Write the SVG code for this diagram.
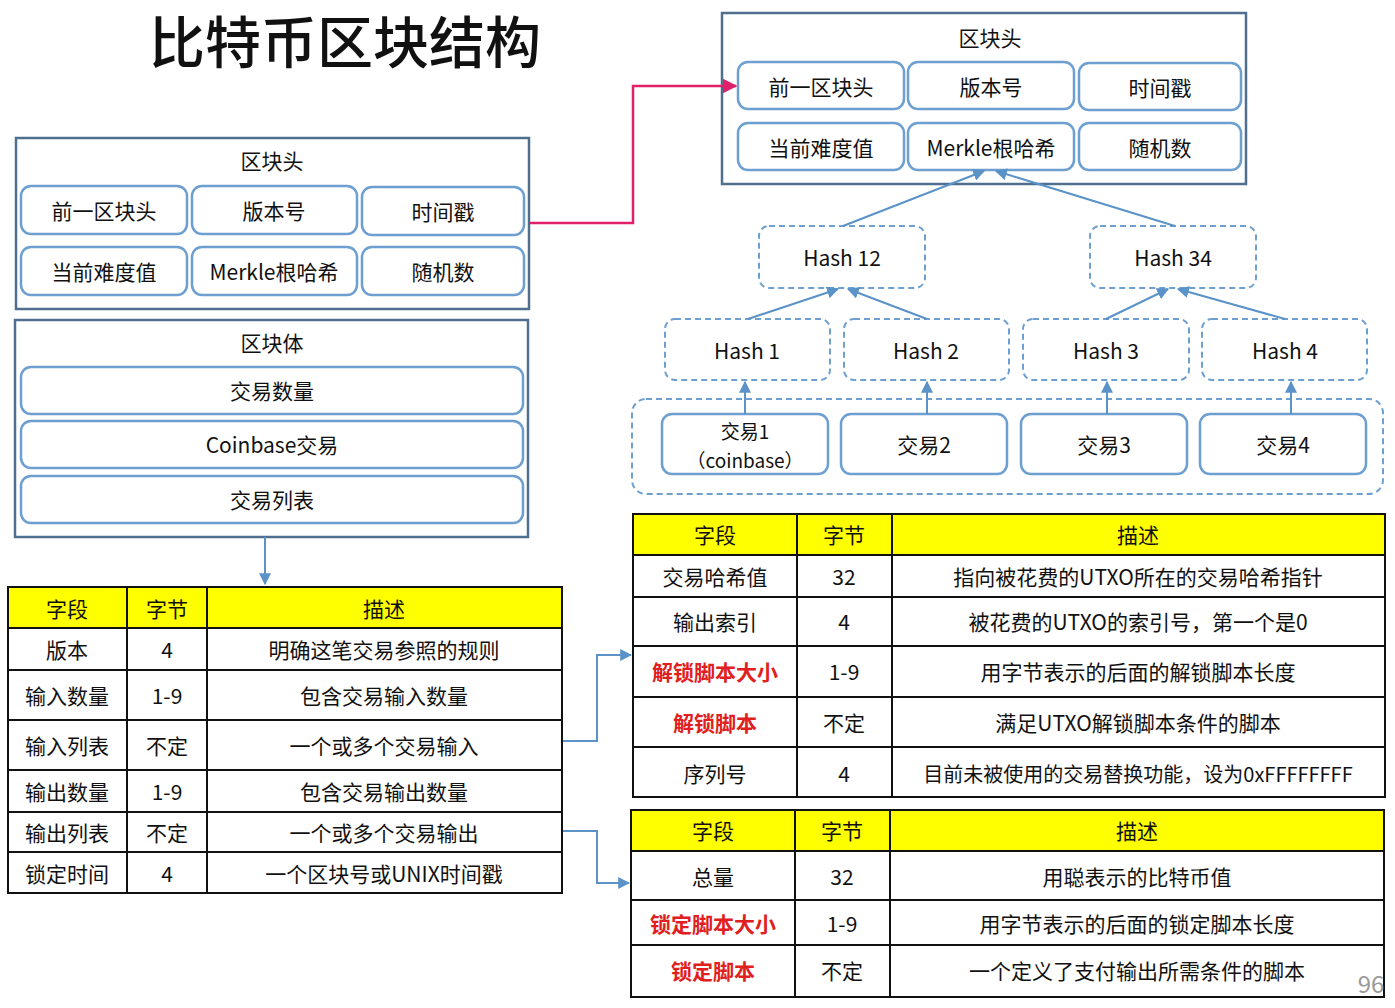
<svg xmlns="http://www.w3.org/2000/svg" width="1395" height="1008" viewBox="0 0 1395 1008">
<defs>
<style>
text{font-family:"Noto Sans CJK SC","Liberation Sans",sans-serif;font-size:21px;fill:#111;text-anchor:middle;dominant-baseline:central}
.outer{fill:#fff;stroke:#4f6f8f;stroke-width:2.5}
.cell{fill:#fff;stroke:#6d9fd0;stroke-width:2.5}
.dash{fill:#fff;stroke:#6d9fd0;stroke-width:2;stroke-dasharray:6 4}
.ln{fill:none;stroke:#5b93c9;stroke-width:2}
.tb{fill:#fff;stroke:#111;stroke-width:2}
.hd{fill:#ffff00;stroke:#111;stroke-width:2}
.gl{stroke:#111;stroke-width:2}
.red{fill:#e02020;font-weight:bold}
</style>
<marker id="a" viewBox="0 0 10 10" refX="9" refY="5" markerWidth="6" markerHeight="6" orient="auto"><path d="M0,0L10,5L0,10z" fill="#5b93c9"/></marker>
<marker id="p" viewBox="0 0 10 10" refX="9" refY="5" markerWidth="6" markerHeight="6" orient="auto"><path d="M0,0L10,5L0,10z" fill="#e0206a"/></marker>
</defs>
<rect width="1395" height="1008" fill="#fff"/>
<text x="345" y="38" style="font-size:56px;font-weight:500">比特币区块结构</text>

<g id="left-header">
<rect class="outer" x="16" y="138" width="513" height="171"/>
<text x="272" y="160">区块头</text>
<rect class="cell" x="21" y="186" width="166" height="48" rx="10"/><text x="104" y="210">前一区块头</text>
<rect class="cell" x="192" y="186" width="165" height="48" rx="10"/><text x="274" y="210">版本号</text>
<rect class="cell" x="362" y="187" width="162" height="48" rx="10"/><text x="443" y="211">时间戳</text>
<rect class="cell" x="21" y="247" width="166" height="48" rx="10"/><text x="104" y="271">当前难度值</text>
<rect class="cell" x="192" y="247" width="165" height="48" rx="10"/><text x="274" y="271">Merkle根哈希</text>
<rect class="cell" x="362" y="247" width="162" height="48" rx="10"/><text x="443" y="271">随机数</text>
</g>
<g id="left-body">
<rect class="outer" x="15" y="320" width="513" height="217"/>
<text x="272" y="342">区块体</text>
<rect class="cell" x="21" y="367" width="502" height="47" rx="10"/><text x="272" y="390">交易数量</text>
<rect class="cell" x="21" y="421" width="502" height="47" rx="10"/><text x="272" y="444">Coinbase交易</text>
<rect class="cell" x="21" y="476" width="502" height="47" rx="10"/><text x="272" y="499">交易列表</text>
</g>

<g id="right-header">
<rect class="outer" x="722" y="13" width="524" height="171"/>
<text x="990" y="37">区块头</text>
<rect class="cell" x="738" y="62" width="166" height="47" rx="10"/><text x="821" y="86">前一区块头</text>
<rect class="cell" x="908" y="62" width="166" height="47" rx="10"/><text x="991" y="86">版本号</text>
<rect class="cell" x="1079" y="63" width="162" height="47" rx="10"/><text x="1160" y="87">时间戳</text>
<rect class="cell" x="738" y="123" width="166" height="47" rx="10"/><text x="821" y="147">当前难度值</text>
<rect class="cell" x="908" y="123" width="166" height="47" rx="10"/><text x="991" y="147">Merkle根哈希</text>
<rect class="cell" x="1079" y="123" width="162" height="47" rx="10"/><text x="1160" y="147">随机数</text>
</g>

<g id="merkle">
<rect class="dash" x="632" y="399" width="751" height="95" rx="14"/>
<rect class="dash" x="759" y="226" width="166" height="62" rx="10"/><text x="842" y="257">Hash 12</text>
<rect class="dash" x="1090" y="226" width="166" height="62" rx="10"/><text x="1173" y="257">Hash 34</text>
<rect class="dash" x="665" y="319" width="165" height="61" rx="10"/><text x="747" y="350">Hash 1</text>
<rect class="dash" x="844" y="319" width="165" height="61" rx="10"/><text x="926" y="350">Hash 2</text>
<rect class="dash" x="1023" y="319" width="166" height="61" rx="10"/><text x="1106" y="350">Hash 3</text>
<rect class="dash" x="1202" y="319" width="165" height="61" rx="10"/><text x="1285" y="350">Hash 4</text>
<rect class="cell" x="662" y="414" width="166" height="60" rx="10"/><text x="745" y="430" style="font-size:19px">交易1</text><text x="745" y="459" style="font-size:19px">（coinbase）</text>
<rect class="cell" x="841" y="414" width="166" height="60" rx="10"/><text x="924" y="444">交易2</text>
<rect class="cell" x="1021" y="414" width="166" height="60" rx="10"/><text x="1104" y="444">交易3</text>
<rect class="cell" x="1200" y="414" width="166" height="60" rx="10"/><text x="1283" y="444">交易4</text>
</g>

<g id="connectors">
<path class="ln" d="M265,537V584" marker-end="url(#a)"/>
<path d="M529,223H633V86H736" fill="none" stroke="#e0206a" stroke-width="2.5" marker-end="url(#p)"/>
<path class="ln" d="M745,414V382" marker-end="url(#a)"/>
<path class="ln" d="M927,414V382" marker-end="url(#a)"/>
<path class="ln" d="M1107,414V382" marker-end="url(#a)"/>
<path class="ln" d="M1291,414V382" marker-end="url(#a)"/>
<path class="ln" d="M748,319L838,289" marker-end="url(#a)"/>
<path class="ln" d="M927,319L848,289" marker-end="url(#a)"/>
<path class="ln" d="M1106,319L1168,289" marker-end="url(#a)"/>
<path class="ln" d="M1285,319L1178,289" marker-end="url(#a)"/>
<path class="ln" d="M843,226L984,171" marker-end="url(#a)"/>
<path class="ln" d="M1175,226L996,171" marker-end="url(#a)"/>
<path class="ln" d="M562,741H597V655H631" marker-end="url(#a)"/>
<path class="ln" d="M562,831H597V883H629" marker-end="url(#a)"/>
</g>

<g id="table-tx">
<rect class="hd" x="8" y="587" width="554" height="41"/>
<rect class="tb" x="8" y="628" width="554" height="265"/>
<path class="gl" d="M127,587V893M207,587V893M8,670H562M8,720H562M8,770H562M8,812H562M8,852H562"/>
<text x="67" y="608">字段</text><text x="167" y="608">字节</text><text x="384" y="608">描述</text>
<text x="67" y="649">版本</text><text x="167" y="649">4</text><text x="384" y="649">明确这笔交易参照的规则</text>
<text x="67" y="695">输入数量</text><text x="167" y="695">1-9</text><text x="384" y="695">包含交易输入数量</text>
<text x="67" y="745">输入列表</text><text x="167" y="745">不定</text><text x="384" y="745">一个或多个交易输入</text>
<text x="67" y="791">输出数量</text><text x="167" y="791">1-9</text><text x="384" y="791">包含交易输出数量</text>
<text x="67" y="832">输出列表</text><text x="167" y="832">不定</text><text x="384" y="832">一个或多个交易输出</text>
<text x="67" y="873">锁定时间</text><text x="167" y="873">4</text><text x="384" y="873">一个区块号或UNIX时间戳</text>
</g>

<g id="table-in">
<rect class="hd" x="633" y="514" width="752" height="41"/>
<rect class="tb" x="633" y="555" width="752" height="242"/>
<path class="gl" d="M797,514V797M892,514V797M633,597H1385M633,646H1385M633,697H1385M633,747H1385"/>
<text x="715" y="534">字段</text><text x="844" y="534">字节</text><text x="1138" y="534">描述</text>
<text x="715" y="576">交易哈希值</text><text x="844" y="576">32</text><text x="1138" y="576">指向被花费的UTXO所在的交易哈希指针</text>
<text x="715" y="621">输出索引</text><text x="844" y="621">4</text><text x="1138" y="621">被花费的UTXO的索引号，第一个是0</text>
<text x="715" y="671" class="red">解锁脚本大小</text><text x="844" y="671">1-9</text><text x="1138" y="671">用字节表示的后面的解锁脚本长度</text>
<text x="715" y="722" class="red">解锁脚本</text><text x="844" y="722">不定</text><text x="1138" y="722">满足UTXO解锁脚本条件的脚本</text>
<text x="715" y="773">序列号</text><text x="844" y="773">4</text><text x="1138" y="773" style="font-size:20px">目前未被使用的交易替换功能，设为0xFFFFFFFF</text>
</g>

<g id="table-out">
<rect class="hd" x="631" y="810" width="753" height="41"/>
<rect class="tb" x="631" y="851" width="753" height="146"/>
<path class="gl" d="M795,810V997M890,810V997M631,900H1384M631,945H1384"/>
<text x="713" y="830">字段</text><text x="842" y="830">字节</text><text x="1137" y="830">描述</text>
<text x="713" y="876">总量</text><text x="842" y="876">32</text><text x="1137" y="876">用聪表示的比特币值</text>
<text x="713" y="923" class="red">锁定脚本大小</text><text x="842" y="923">1-9</text><text x="1137" y="923">用字节表示的后面的锁定脚本长度</text>
<text x="713" y="970" class="red">锁定脚本</text><text x="842" y="970">不定</text><text x="1137" y="970">一个定义了支付输出所需条件的脚本</text>
</g>
<text x="1371" y="982" style="fill:#999;font-size:24px">96</text>
</svg>
